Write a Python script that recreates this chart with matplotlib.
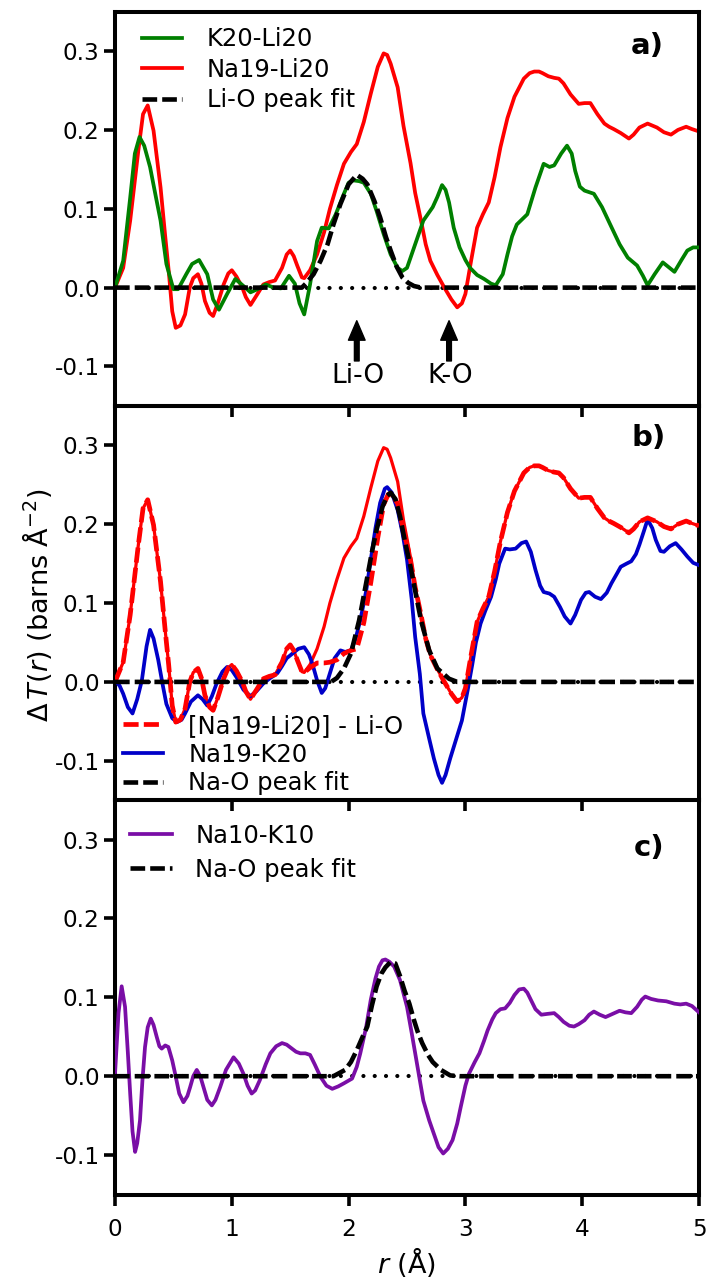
import numpy as np
import matplotlib
matplotlib.use("Agg")
import matplotlib.pyplot as plt

plt.rcParams['font.family'] = ['DejaVu Sans']
plt.rcParams['axes.unicode_minus'] = False
plt.rcParams['mathtext.fontset'] = 'dejavusans'

# ---------------- data ----------------
x_ticks = [0, 1, 2, 3, 4, 5]
y_ticks = [-0.1, 0.0, 0.1, 0.2, 0.3]
y_tick_labels = ["-0.1", "0.0", "0.1", "0.2", "0.3"]

# panel a
k20_li20 = [(0.00, 0.000), (0.07, 0.034), (0.13, 0.114), (0.17, 0.170), (0.21, 0.191), (0.25, 0.180),
            (0.30, 0.153), (0.35, 0.115), (0.39, 0.085), (0.44, 0.030), (0.50, -0.002), (0.54, -0.002),
            (0.61, 0.017), (0.66, 0.030), (0.72, 0.035), (0.79, 0.017), (0.84, -0.015), (0.89, -0.028),
            (0.96, -0.008), (1.03, 0.011), (1.10, 0.002), (1.16, -0.006), (1.22, -0.002), (1.29, 0.004),
            (1.36, 0.000), (1.42, -0.001), (1.49, 0.015), (1.54, 0.005), (1.58, -0.020), (1.62, -0.034),
            (1.67, 0.004), (1.73, 0.059), (1.77, 0.076), (1.83, 0.075), (1.89, 0.093), (1.96, 0.119),
            (2.00, 0.133), (2.04, 0.136), (2.09, 0.135), (2.13, 0.133), (2.19, 0.119), (2.24, 0.097),
            (2.30, 0.068), (2.36, 0.042), (2.42, 0.025), (2.46, 0.021), (2.50, 0.025), (2.57, 0.055),
            (2.64, 0.085), (2.72, 0.102), (2.76, 0.115), (2.80, 0.130), (2.83, 0.124), (2.86, 0.108),
            (2.90, 0.076), (2.95, 0.051), (3.00, 0.035), (3.04, 0.025), (3.10, 0.016), (3.16, 0.011),
            (3.22, 0.005), (3.26, 0.003), (3.32, 0.017), (3.36, 0.042), (3.40, 0.065), (3.44, 0.080),
            (3.53, 0.093), (3.60, 0.127), (3.67, 0.157), (3.72, 0.153), (3.76, 0.155), (3.82, 0.170),
            (3.87, 0.180), (3.91, 0.170), (3.94, 0.148), (3.98, 0.128), (4.02, 0.123), (4.10, 0.119),
            (4.17, 0.102), (4.24, 0.080), (4.32, 0.055), (4.39, 0.038), (4.47, 0.028), (4.52, 0.015),
            (4.56, 0.003), (4.62, 0.017), (4.69, 0.032), (4.74, 0.026), (4.79, 0.020), (4.85, 0.035),
            (4.90, 0.047), (4.95, 0.051), (5.00, 0.051)]

na19_li20 = [(0.00, 0.000), (0.07, 0.025), (0.13, 0.085), (0.20, 0.174), (0.24, 0.220), (0.28, 0.231),
             (0.33, 0.199), (0.39, 0.127), (0.43, 0.065), (0.46, 0.021), (0.49, -0.030), (0.52, -0.051),
             (0.56, -0.048), (0.60, -0.034), (0.64, 0.000), (0.67, 0.012), (0.71, 0.017), (0.74, 0.005),
             (0.77, -0.017), (0.81, -0.032), (0.84, -0.036), (0.88, -0.020), (0.93, 0.004), (0.97, 0.018),
             (1.00, 0.022), (1.04, 0.014), (1.09, 0.000), (1.12, -0.012), (1.16, -0.022), (1.22, -0.008),
             (1.27, 0.004), (1.32, 0.007), (1.37, 0.009), (1.43, 0.025), (1.47, 0.042), (1.50, 0.047),
             (1.53, 0.040), (1.56, 0.028), (1.60, 0.013), (1.62, 0.012), (1.67, 0.022), (1.73, 0.042),
             (1.79, 0.070), (1.84, 0.100), (1.90, 0.130), (1.96, 0.157), (2.02, 0.172), (2.07, 0.182),
             (2.13, 0.210), (2.19, 0.246), (2.25, 0.280), (2.30, 0.297), (2.33, 0.295), (2.36, 0.284),
             (2.42, 0.254), (2.47, 0.205), (2.53, 0.158), (2.57, 0.120), (2.62, 0.085), (2.66, 0.055),
             (2.70, 0.034), (2.76, 0.016), (2.82, 0.000), (2.88, -0.015), (2.93, -0.025), (2.97, -0.020),
             (3.00, -0.008), (3.05, 0.035), (3.10, 0.076), (3.15, 0.093), (3.20, 0.108), (3.25, 0.140),
             (3.30, 0.178), (3.36, 0.215), (3.42, 0.242), (3.50, 0.265), (3.55, 0.272), (3.59, 0.274),
             (3.63, 0.274), (3.66, 0.272), (3.71, 0.268), (3.76, 0.266), (3.80, 0.265), (3.84, 0.259),
             (3.90, 0.245), (3.97, 0.233), (4.02, 0.234), (4.07, 0.234), (4.13, 0.220), (4.19, 0.208),
             (4.23, 0.204), (4.27, 0.201), (4.33, 0.196), (4.40, 0.189), (4.44, 0.194), (4.49, 0.203),
             (4.56, 0.208), (4.64, 0.203), (4.70, 0.197), (4.76, 0.194), (4.82, 0.200), (4.89, 0.204),
             (4.94, 0.201), (5.00, 0.198)]

li_o_fit = [(0.00, 0.000), (1.60, 0.000), (1.64, 0.006), (1.70, 0.017), (1.76, 0.034), (1.82, 0.055),
            (1.87, 0.080), (1.93, 0.106), (2.00, 0.131), (2.07, 0.143), (2.12, 0.138), (2.16, 0.131),
            (2.22, 0.110), (2.27, 0.089), (2.32, 0.064), (2.36, 0.047), (2.41, 0.027), (2.46, 0.013),
            (2.51, 0.006), (2.56, 0.002), (2.62, 0.000), (5.00, 0.000)]

# panel b
na19_li20_minus_lio = [(0.00, 0.000), (0.07, 0.025), (0.13, 0.085), (0.20, 0.174), (0.24, 0.220), (0.28, 0.231),
                       (0.33, 0.199), (0.39, 0.127), (0.43, 0.065), (0.46, 0.021), (0.49, -0.030), (0.52, -0.051),
                       (0.56, -0.048), (0.60, -0.034), (0.64, 0.000), (0.67, 0.012), (0.71, 0.017), (0.74, 0.005),
                       (0.77, -0.017), (0.81, -0.032), (0.84, -0.036), (0.88, -0.020), (0.93, 0.004), (0.97, 0.018),
                       (1.00, 0.022), (1.04, 0.014), (1.09, 0.000), (1.12, -0.012), (1.16, -0.022), (1.22, -0.008),
                       (1.27, 0.004), (1.32, 0.007), (1.37, 0.009), (1.43, 0.025), (1.47, 0.042), (1.50, 0.047),
                       (1.53, 0.040), (1.56, 0.028), (1.60, 0.013), (1.62, 0.012), (1.67, 0.018), (1.73, 0.024),
                       (1.79, 0.024), (1.84, 0.025), (1.90, 0.028), (1.96, 0.036), (2.02, 0.040), (2.07, 0.042),
                       (2.13, 0.075), (2.19, 0.126), (2.25, 0.183), (2.30, 0.225), (2.34, 0.238), (2.38, 0.236),
                       (2.42, 0.226), (2.47, 0.192), (2.53, 0.155), (2.57, 0.120), (2.62, 0.085), (2.66, 0.055),
                       (2.70, 0.034), (2.76, 0.016), (2.82, 0.000), (2.88, -0.015), (2.93, -0.025), (2.97, -0.020),
                       (3.00, -0.008), (3.05, 0.035), (3.10, 0.076), (3.15, 0.093), (3.20, 0.108), (3.25, 0.140),
                       (3.30, 0.178), (3.36, 0.215), (3.42, 0.242), (3.50, 0.265), (3.55, 0.272), (3.59, 0.274),
                       (3.63, 0.274), (3.66, 0.272), (3.71, 0.268), (3.76, 0.266), (3.80, 0.265), (3.84, 0.259),
                       (3.90, 0.245), (3.97, 0.233), (4.02, 0.234), (4.07, 0.234), (4.13, 0.220), (4.19, 0.208),
                       (4.23, 0.204), (4.27, 0.201), (4.33, 0.196), (4.40, 0.189), (4.44, 0.194), (4.49, 0.203),
                       (4.56, 0.208), (4.64, 0.203), (4.70, 0.197), (4.76, 0.194), (4.82, 0.200), (4.89, 0.204),
                       (4.94, 0.201), (5.00, 0.198)]

na19_k20 = [(0.00, 0.002), (0.04, -0.005), (0.07, -0.015), (0.11, -0.032), (0.15, -0.040), (0.19, -0.022),
            (0.23, 0.002), (0.27, 0.045), (0.30, 0.066), (0.33, 0.055), (0.37, 0.028), (0.41, -0.005),
            (0.44, -0.028), (0.49, -0.046), (0.53, -0.051), (0.57, -0.048), (0.60, -0.040), (0.65, -0.025),
            (0.71, -0.017), (0.75, -0.022), (0.79, -0.030), (0.83, -0.018), (0.87, -0.002), (0.92, 0.013),
            (0.96, 0.019), (1.00, 0.015), (1.04, 0.006), (1.10, -0.010), (1.16, -0.018), (1.21, -0.012),
            (1.27, -0.002), (1.33, 0.005), (1.39, 0.011), (1.43, 0.020), (1.47, 0.030), (1.52, 0.036),
            (1.57, 0.042), (1.62, 0.044), (1.66, 0.035), (1.69, 0.023), (1.73, 0.002), (1.77, -0.014),
            (1.80, -0.008), (1.84, 0.011), (1.88, 0.030), (1.93, 0.040), (1.97, 0.038), (2.02, 0.040),
            (2.06, 0.055), (2.10, 0.078), (2.15, 0.115), (2.19, 0.155), (2.23, 0.195), (2.27, 0.227),
            (2.31, 0.245), (2.33, 0.247), (2.37, 0.240), (2.42, 0.218), (2.46, 0.190), (2.50, 0.155),
            (2.54, 0.105), (2.57, 0.057), (2.61, 0.010), (2.64, -0.040), (2.69, -0.072), (2.73, -0.097),
            (2.77, -0.118), (2.80, -0.128), (2.83, -0.118), (2.87, -0.097), (2.92, -0.073), (2.97, -0.049),
            (3.02, -0.010), (3.06, 0.023), (3.09, 0.050), (3.13, 0.074), (3.17, 0.090), (3.22, 0.108),
            (3.26, 0.130), (3.29, 0.150), (3.34, 0.169), (3.38, 0.168), (3.43, 0.169), (3.48, 0.176),
            (3.52, 0.178), (3.56, 0.165), (3.60, 0.142), (3.64, 0.122), (3.67, 0.114), (3.72, 0.112),
            (3.76, 0.108), (3.81, 0.095), (3.85, 0.083), (3.90, 0.074), (3.94, 0.085), (3.99, 0.104),
            (4.03, 0.113), (4.06, 0.114), (4.11, 0.108), (4.16, 0.105), (4.21, 0.113), (4.25, 0.125),
            (4.30, 0.138), (4.33, 0.146), (4.38, 0.150), (4.42, 0.153), (4.46, 0.162), (4.49, 0.174),
            (4.53, 0.192), (4.56, 0.206), (4.60, 0.195), (4.63, 0.180), (4.67, 0.166), (4.70, 0.165),
            (4.75, 0.172), (4.80, 0.176), (4.85, 0.168), (4.90, 0.159), (4.95, 0.151), (5.00, 0.148)]

na_o_fit_b = [(0.00, 0.000), (1.85, 0.000), (1.90, 0.005), (1.96, 0.017), (2.02, 0.036), (2.09, 0.078),
              (2.16, 0.133), (2.20, 0.165), (2.24, 0.193), (2.29, 0.222), (2.33, 0.236), (2.36, 0.240),
              (2.40, 0.232), (2.44, 0.210), (2.48, 0.180), (2.53, 0.146), (2.58, 0.108), (2.62, 0.078),
              (2.69, 0.040), (2.76, 0.017), (2.86, 0.004), (2.93, 0.000), (5.00, 0.000)]

# panel c
na10_k10 = [(0.00, 0.003), (0.03, 0.080), (0.057, 0.114), (0.086, 0.088), (0.11, 0.030), (0.13, -0.022),
            (0.15, -0.070), (0.172, -0.096), (0.19, -0.085), (0.214, -0.056), (0.235, -0.005), (0.257, 0.037),
            (0.28, 0.062), (0.306, 0.073), (0.33, 0.065), (0.357, 0.050), (0.38, 0.038), (0.40, 0.035),
            (0.43, 0.039), (0.457, 0.037), (0.49, 0.020), (0.515, 0.003), (0.55, -0.022), (0.586, -0.033),
            (0.62, -0.025), (0.643, -0.014), (0.67, 0.000), (0.70, 0.008), (0.73, 0.000), (0.758, -0.014),
            (0.79, -0.030), (0.829, -0.037), (0.86, -0.030), (0.90, -0.014), (0.95, 0.008), (1.015, 0.024),
            (1.06, 0.016), (1.10, 0.003), (1.135, -0.012), (1.17, -0.022), (1.20, -0.018), (1.24, -0.005),
            (1.29, 0.015), (1.33, 0.029), (1.38, 0.038), (1.43, 0.042), (1.47, 0.040), (1.515, 0.035),
            (1.55, 0.031), (1.587, 0.029), (1.63, 0.029), (1.67, 0.027), (1.71, 0.015), (1.76, -0.001),
            (1.81, -0.012), (1.86, -0.016), (1.91, -0.013), (1.96, -0.009), (2.03, -0.003), (2.07, 0.012),
            (2.10, 0.029), (2.15, 0.062), (2.19, 0.097), (2.23, 0.124), (2.26, 0.139), (2.29, 0.147),
            (2.315, 0.148), (2.35, 0.145), (2.39, 0.139), (2.44, 0.122), (2.47, 0.105), (2.50, 0.088),
            (2.54, 0.055), (2.57, 0.029), (2.61, -0.005), (2.64, -0.031), (2.69, -0.056), (2.73, -0.073),
            (2.77, -0.090), (2.81, -0.098), (2.85, -0.092), (2.89, -0.081), (2.93, -0.060), (2.96, -0.039),
            (3.00, -0.012), (3.03, 0.003), (3.08, 0.018), (3.12, 0.029), (3.16, 0.045), (3.19, 0.058),
            (3.23, 0.072), (3.26, 0.080), (3.30, 0.085), (3.34, 0.086), (3.38, 0.093), (3.42, 0.103),
            (3.46, 0.110), (3.50, 0.111), (3.53, 0.106), (3.56, 0.097), (3.60, 0.085), (3.65, 0.078),
            (3.70, 0.079), (3.76, 0.080), (3.80, 0.075), (3.84, 0.069), (3.89, 0.064), (3.93, 0.063),
            (3.97, 0.066), (4.02, 0.071), (4.06, 0.078), (4.10, 0.082), (4.15, 0.078), (4.20, 0.075),
            (4.26, 0.079), (4.32, 0.083), (4.37, 0.081), (4.42, 0.080), (4.47, 0.088), (4.51, 0.097),
            (4.54, 0.101), (4.59, 0.098), (4.65, 0.096), (4.72, 0.095), (4.79, 0.092), (4.84, 0.091),
            (4.89, 0.092), (4.94, 0.089), (5.00, 0.081)]

na_o_fit_c = [(0.00, 0.000), (1.87, 0.000), (1.97, 0.008), (2.02, 0.018), (2.07, 0.033), (2.12, 0.050),
              (2.16, 0.063), (2.20, 0.090), (2.24, 0.114), (2.28, 0.130), (2.315, 0.138), (2.36, 0.145),
              (2.40, 0.143), (2.44, 0.127), (2.48, 0.108), (2.52, 0.092), (2.56, 0.071), (2.59, 0.057),
              (2.63, 0.042), (2.68, 0.027), (2.72, 0.018), (2.79, 0.008), (2.87, 0.001), (2.95, 0.000),
              (5.00, 0.000)]

# annotations in panel a
peak_names = ["Li-O", "K-O"]
peak_r = [2.07, 2.86]

# ---------------- styling ----------------
FS_TICK = 16.7
FS_LEG = 17.5
FS_LAB = 19.5
GREEN = "#008000"
RED = "#ff0000"
BLUE = "#0000c8"
PURPLE = "#7a0ea6"
LW = 2.7
FIT_LS = (0, (3.2, 1.1))
DOT_LS = (0, (0.01, 2.7))


def xy(pairs):
    a = np.array(pairs, dtype=float)
    return a[:, 0], a[:, 1]


fig = plt.figure(figsize=(7.08, 12.82), dpi=100)
left = 115 / 708
width = 584 / 708
h = 394.3 / 1282
top0 = 1 - 11.6 / 1282
bottoms = [top0 - h, top0 - 2 * h, top0 - 3 * h]
axes = [fig.add_axes([left, b, width, h]) for b in bottoms]

for i, ax in enumerate(axes):
    ax.set_xlim(0, 5)
    ax.set_ylim(-0.15, 0.35)
    ax.patch.set_visible(False)
    for s in ax.spines.values():
        s.set_linewidth(2.9)
    ax.set_yticks(y_ticks)
    ax.set_yticklabels(y_tick_labels)
    ax.set_xticks(x_ticks)
    ax.tick_params(axis='both', direction='out', length=8, width=2.6, labelsize=FS_TICK)
    ax.tick_params(axis='y', pad=3)
    ax.tick_params(axis='x', pad=9)
    if i < 2:
        ax.tick_params(axis='x', labelbottom=False)
    ax.axhline(0, color='black', lw=3.0, linestyle=DOT_LS, dash_capstyle='round', zorder=1)

leg_kw = dict(frameon=False, fontsize=FS_LEG, borderpad=0, borderaxespad=0)

# ---- panel a ----
ax = axes[0]
l1, = ax.plot(*xy(k20_li20), color=GREEN, lw=LW, zorder=3, label="K20-Li20")
l2, = ax.plot(*xy(na19_li20), color=RED, lw=LW, zorder=2, label="Na19-Li20")
l3, = ax.plot(*xy(li_o_fit), color='black', lw=3.3, linestyle=FIT_LS, zorder=4, label="Li-O peak fit")
ax.legend(handles=[l1, l2, l3], loc='upper left', bbox_to_anchor=(0.046, 0.96),
          handlelength=1.65, handletextpad=1.03, labelspacing=0.26, **leg_kw)
for name, r in zip(peak_names, peak_r):
    ax.annotate('', xy=(r, -0.042), xytext=(r, -0.093),
                arrowprops=dict(width=3.4, headwidth=12, headlength=14, facecolor='black',
                                edgecolor='black', shrink=0))
    ax.text(r + 0.01, -0.112, name, ha='center', va='center', fontsize=FS_LAB - 0.5)
ax.text(0.94, 0.948, 'a)', transform=ax.transAxes, ha='right', va='top', fontsize=21, fontweight='bold')

# ---- panel b ----
ax = axes[1]
ax.plot(*xy(na19_li20), color=RED, lw=2.3, zorder=2)
m2, = ax.plot(*xy(na19_k20), color=BLUE, lw=LW, zorder=3, label="Na19-K20")
m1, = ax.plot(*xy(na19_li20_minus_lio), color=RED, lw=3.4, linestyle=FIT_LS, zorder=4,
              label="[Na19-Li20] - Li-O")
m3, = ax.plot(*xy(na_o_fit_b), color='black', lw=3.3, linestyle=FIT_LS, zorder=5, label="Na-O peak fit")
ax.legend(handles=[m1, m2, m3], loc='lower left', bbox_to_anchor=(0.014, 0.012),
          handlelength=1.65, handletextpad=1.03, labelspacing=0.2, **leg_kw)
ax.text(0.943, 0.953, 'b)', transform=ax.transAxes, ha='right', va='top', fontsize=21, fontweight='bold')

# ---- panel c ----
ax = axes[2]
n1, = ax.plot(*xy(na10_k10), color=PURPLE, lw=LW, zorder=3, label="Na10-K10")
n2, = ax.plot(*xy(na_o_fit_c), color='black', lw=3.3, linestyle=FIT_LS, zorder=4, label="Na-O peak fit")
ax.legend(handles=[n1, n2], loc='upper left', bbox_to_anchor=(0.026, 0.94),
          handlelength=1.73, handletextpad=0.95, labelspacing=0.4, **leg_kw)
ax.text(0.94, 0.915, 'c)', transform=ax.transAxes, ha='right', va='top', fontsize=21, fontweight='bold')

fig.text(37 / 708, 1 - 605 / 1282, r"$\Delta\,T(r)$ (barns Å$^{-2}$)", rotation=90,
         ha='center', va='center', fontsize=FS_LAB)
fig.text(407 / 708, 1 - 1262 / 1282, r"$r$ (Å)", ha='center', va='center', fontsize=FS_LAB)

fig.savefig("out.png", dpi=100)
